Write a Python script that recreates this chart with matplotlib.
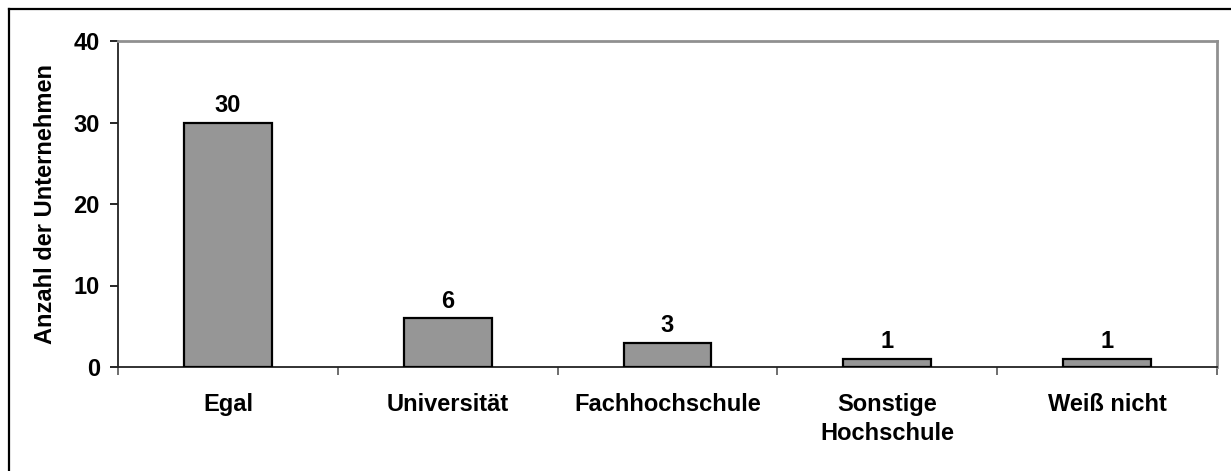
import numpy as np
import matplotlib.pyplot as plt
from matplotlib.lines import Line2D

categories = ["Egal", "Universität", "Fachhochschule", "Sonstige\nHochschule", "Weiß nicht"]
values = [30, 6, 3, 1, 1]
y_ticks = [0, 10, 20, 30, 40]

plt.rcParams['font.family'] = ['Liberation Sans', 'DejaVu Sans']
plt.rcParams['font.weight'] = 'bold'
fs = 17

fig = plt.figure(figsize=(12.31, 4.71), dpi=100)
ax = fig.add_axes([118/1231, 1 - 367/471, (1217-118)/1231, (367-41)/471])

x = np.arange(len(categories))
ax.bar(x, values, width=0.4, color='#969696', edgecolor='black', linewidth=1.6, zorder=3)
for xi, v in zip(x, values):
    ax.annotate(str(v), (xi, v), xytext=(0, 4), textcoords='offset points',
                ha='center', va='bottom', fontsize=fs, fontweight='bold')

ax.set_xlim(-0.5, len(categories) - 0.5)
ax.set_ylim(0, 40)
ax.set_yticks(y_ticks)
ax.tick_params(axis='y', labelsize=fs, length=6, width=1.2, direction='out', pad=7)

# category labels between boundary ticks, like Excel
ax.set_xticks(np.arange(len(categories) + 1) - 0.5)
ax.set_xticklabels([])
ax.set_xticks(x, minor=True)
ax.set_xticklabels(categories, minor=True, fontsize=fs, fontweight='bold', va='top', linespacing=1.3)
ax.tick_params(axis='x', which='minor', length=0, pad=19)
ax.tick_params(axis='x', which='major', length=6, width=1.2, color='#555555', direction='out')

ax.set_ylabel("Anzahl der Unternehmen", fontsize=fs, fontweight='bold', labelpad=12)

ax.spines['left'].set_linewidth(1.3)
ax.spines['bottom'].set_linewidth(1.3)
ax.spines['left'].set_color('#222222')
ax.spines['bottom'].set_color('#222222')
ax.spines['top'].set_color('#909090')
ax.spines['right'].set_color('#909090')
ax.spines['top'].set_linewidth(2)
ax.spines['right'].set_linewidth(2)

# outer chart border (only left and top are visible in the crop)
bx, by = 8.5/1231, 1 - 8.5/471
fig.lines.append(Line2D([bx, bx], [0, by], transform=fig.transFigure, color='black', linewidth=1.6))
fig.lines.append(Line2D([bx, 1], [by, by], transform=fig.transFigure, color='black', linewidth=1.6))

fig.savefig("out.png", dpi=100)
